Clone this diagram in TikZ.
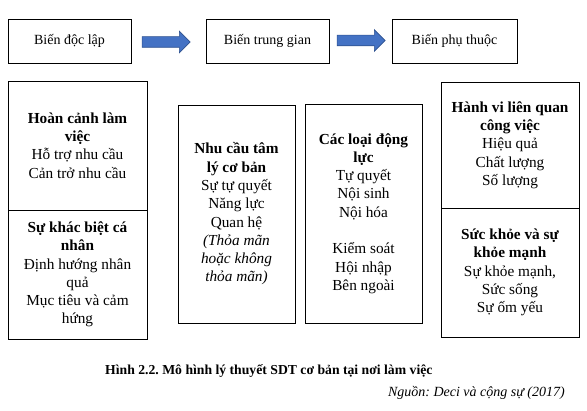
\documentclass[tikz,border=0pt]{standalone}
\usepackage{fontspec}
\setmainfont{Liberation Serif}
\frenchspacing
\usetikzlibrary{shapes.arrows, calc}
\definecolor{arrowblue}{HTML}{4472C4}
\definecolor{arrowedge}{HTML}{2F528F}
\tikzset{
    box/.style={draw, line width=0.9pt, rectangle, align=center, inner sep=2pt, font=\fontsize{15.3}{18.3}\selectfont},
    topbox/.style={draw, line width=0.9pt, rectangle, minimum height=44pt, align=center, font=\fontsize{14}{17}\selectfont},
    bigarrow/.style={single arrow, fill=arrowblue, draw=arrowedge, line width=0.6pt, inner xsep=0pt, inner ysep=5pt, minimum height=48pt, minimum width=21pt, single arrow head extend=5.5pt}
}

\begin{document}
\begin{tikzpicture}[x=1pt, y=-1pt]
    \useasboundingbox (0,0) rectangle (587,411);
    \node[topbox, minimum width=123pt] (indep) at (69.5,41) {Biến độc lập};
    \node[topbox, minimum width=123pt] (medi) at (267.5,41) {Biến trung gian};
    \node[topbox, minimum width=125pt] (dep) at (454.5,41) {Biến phụ thuộc};
    \node[bigarrow] (a1) at ($(indep.east)!0.5!(medi.west)+(-5,1)$) {};
    \node[bigarrow] (a2) at ($(medi.east)!0.5!(dep.west)+(-2,-0.5)$) {};

    \node[box, minimum width=139pt, minimum height=129pt] (ctx) at (77.5,145.5)
        {\textbf{Hoàn cảnh làm}\\\textbf{việc}\\Hỗ trợ nhu cầu\\Cản trở nhu cầu};
    \node[box, minimum width=139pt, minimum height=129pt] (indiv) at (77.5,274.5)
        {\textbf{Sự khác biệt cá}\\\textbf{nhân}\\Định hướng nhân\\quả\\Mục tiêu và cảm\\hứng};
    \node[box, minimum width=117pt, minimum height=218pt] (needs) at (236.5,214)
        {\textbf{Nhu cầu tâm}\\\textbf{lý cơ bản}\\Sự tự quyết\\Năng lực\\Quan hệ\\\textit{(Thỏa mãn}\\\textit{hoặc không}\\\textit{thỏa mãn)}};
    \node[box, minimum width=117pt, minimum height=219pt] (motiv) at (363.5,213.5)
        {\textbf{Các loại động}\\\textbf{lực}\\Tự quyết\\Nội sinh\\Nội hóa\\~\\Kiểm soát\\Hội nhập\\Bên ngoài};
    \node[box, minimum width=138pt, minimum height=126pt] (behav) at (510,145)
        {\textbf{Hành vi liên quan}\\\textbf{công việc}\\Hiệu quả\\Chất lượng\\Số lượng};
    \node[box, minimum width=138pt, minimum height=129pt] (health) at (510,272.5)
        {\textbf{Sức khỏe và sự}\\\textbf{khỏe mạnh}\\Sự khỏe mạnh,\\Sức sống\\Sự ốm yếu};

    \node[anchor=base west, inner sep=0pt, font=\fontsize{13.7}{16}\selectfont\bfseries] (cap) at (105,375)
        {Hình 2.2. Mô hình lý thuyết SDT cơ bản tại nơi làm việc};
    \node[anchor=base east, inner sep=0pt, font=\fontsize{14}{16}\selectfont\itshape] (src) at (565,397)
        {Nguồn: Deci và cộng sự (2017)};
\end{tikzpicture}
\end{document}
